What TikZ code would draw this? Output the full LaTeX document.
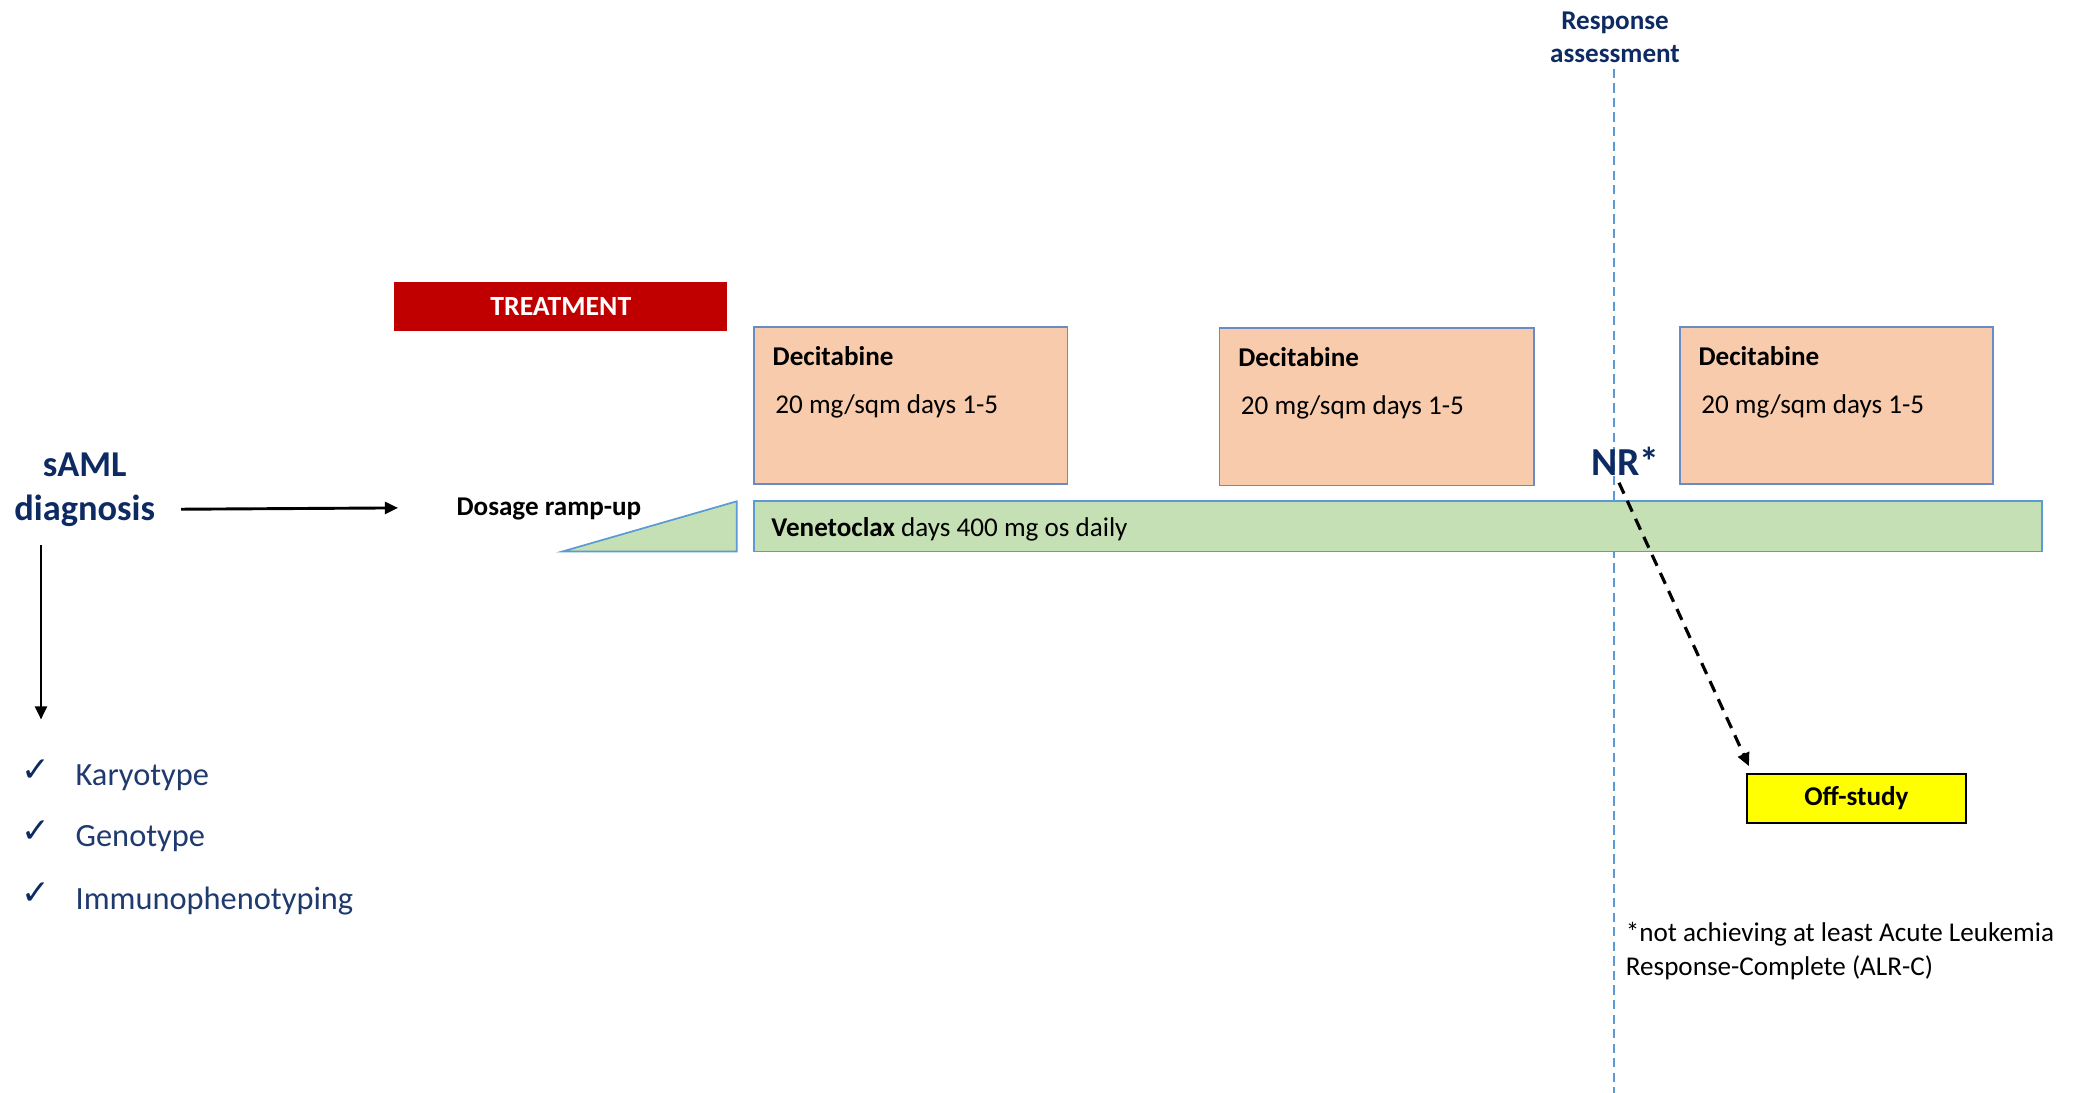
\documentclass[tikz,border=0pt]{standalone}
\usepackage{fontspec}
\setmainfont{Carlito}
\newfontfamily\djv{DejaVu Sans}
\usetikzlibrary{arrows.meta}
\definecolor{navy}{HTML}{1F3A6E}
\definecolor{navyb}{HTML}{0E2A62}
\definecolor{peach}{HTML}{F8CBAD}
\definecolor{lgreen}{HTML}{C5E0B4}
\definecolor{boxline}{HTML}{6A8CC4}
\definecolor{barline}{HTML}{5B9BD5}
\definecolor{treatred}{HTML}{C00000}
\definecolor{offy}{HTML}{FFFF00}
\tikzset{
  lbl/.style={font=\fontsize{20.5}{24}\selectfont, inner sep=0pt, anchor=west},
  blbl/.style={lbl, font=\fontsize{20.5}{24}\selectfont\bfseries},
  decbox/.style={draw=boxline, line width=1.3pt, fill=peach, minimum width=237pt, minimum height=119pt, inner sep=0pt},
  barbox/.style={draw=barline, line width=1.3pt, fill=lgreen, inner sep=0pt},
  arr/.style={line width=2.2pt, -{Triangle[length=10pt,width=9pt]}},
  listtxt/.style={font=\fontsize{24.5}{28}\selectfont, text=navy, inner sep=0pt, anchor=west},
  chk/.style={font=\djv\bfseries\fontsize{26}{28}\selectfont, text=navyb, inner sep=0pt},
}
\begin{document}
\begin{tikzpicture}[x=1pt,y=1pt]
\useasboundingbox (0,0) rectangle (1568,826);
% response assessment line
\node[font=\fontsize{20.5}{25}\selectfont\bfseries, text=navyb, align=center, inner sep=0pt] (resp) at (1221,797.5) {Response\\assessment};
\coordinate (lineTop) at (1220,774);
\coordinate (lineBot) at (1220,0);
\draw[barline, line width=1.2pt, dash pattern=on 7pt off 4pt] (lineTop) -- (lineBot);
% treatment
\node[fill=treatred, minimum width=252pt, minimum height=37pt, inner sep=0pt, text=white, font=\fontsize{21}{24}\selectfont\bfseries] (treat) at (424,594.5) {TREATMENT};
% decitabine boxes
\node[decbox] (d1) at (688.5,519.5) {};
\node[decbox, minimum width=238pt] (d2) at (1041,518.5) {};
\node[decbox] (d3) at (1388.5,519.5) {};
\node[blbl] (d1a) at (584,557) {Decitabine};
\node[lbl] (d1b) at (586,518.5) {20 mg/sqm days 1-5};
\node[blbl] (d2a) at (936,556) {Decitabine};
\node[lbl] (d2b) at (938,518) {20 mg/sqm days 1-5};
\node[blbl] (d3a) at (1284,557) {Decitabine};
\node[lbl] (d3b) at (1286,518.5) {20 mg/sqm days 1-5};
% venetoclax bar
\node[barbox, minimum width=974pt, minimum height=38pt] (bar) at (1057,428) {};
\node[lbl] (bart) at (583,426) {\textbf{Venetoclax} days 400 mg os daily};
% ramp
\draw[barline, line width=1.3pt, fill=lgreen, line join=miter] (425,409) -- (557,447) -- (557,409) -- cycle;
\node[blbl] (ramp) at (345,441) {Dosage ramp-up};
% diagnosis
\node[font=\fontsize{27.5}{33.5}\selectfont\bfseries, text=navyb, align=center, inner sep=0pt] (diag) at (64,455.5) {sAML\\diagnosis};
\coordinate (rampEnd) at (301,442);
\coordinate (hStart) at (137,441);
\draw[arr] (hStart) -- (rampEnd);
\coordinate (vStart) at (31,414);
\coordinate (vEnd) at (31,282);
\draw[arr] (vStart) -- (vEnd);
% list
\node[chk] (c1) at (27,243) {✓};
\node[chk] (c2) at (27,197) {✓};
\node[chk] (c3) at (27,150) {✓};
\node[listtxt] (k) at (57,238) {Karyotype};
\node[listtxt] (g) at (57,192) {Genotype};
\node[listtxt] (im) at (57,145) {Immunophenotyping};
% NR
\node[font=\fontsize{30}{34}\selectfont\bfseries, text=navyb, inner sep=0pt, anchor=west] (nr) at (1203,477) {NR*};
% off-study
\node[draw=black, line width=1.5pt, fill=offy, minimum width=165pt, minimum height=37pt, inner sep=0pt, font=\fontsize{20.5}{24}\selectfont\bfseries] (off) at (1403.5,222.5) {\raisebox{-2pt}{Off-study}};
\coordinate (nrStart) at (1224,461);
\draw[line width=2.4pt, dash pattern=on 9pt off 6pt, -{Triangle[length=10pt,width=9pt]}] (nrStart) -- ([xshift=2pt,yshift=5pt]off.north west);
% footnote
\node[font=\fontsize{20.5}{25.5}\selectfont, align=left, inner sep=0pt, anchor=north west] (foot) at (1229,129) {*not achieving at least Acute Leukemia\\Response-Complete (ALR-C)};
\end{tikzpicture}
\end{document}
